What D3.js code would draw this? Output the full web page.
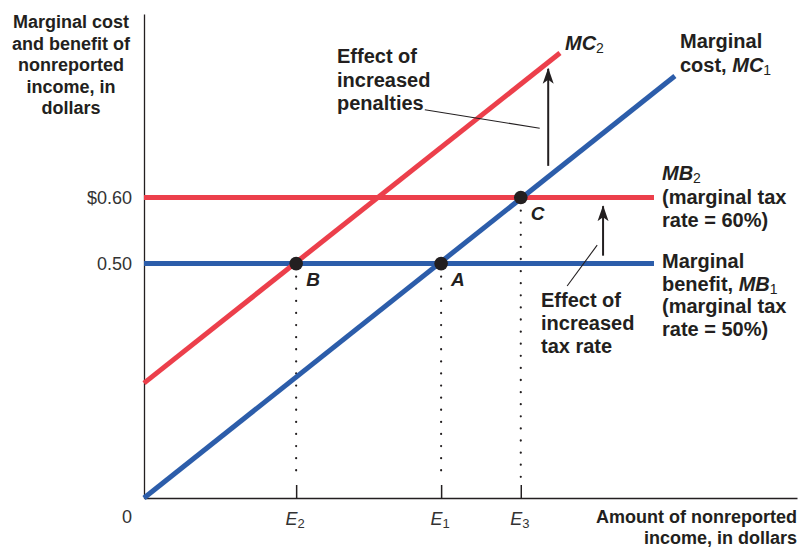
<!DOCTYPE html>
<html>
<head>
<meta charset="utf-8">
<script src="https://cdn.jsdelivr.net/npm/d3@7"></script>
<style>
  body { margin: 0; background: #fff; }
  svg text { font-family: "Liberation Sans Narrow", "Arial Narrow", "Liberation Sans", sans-serif; fill: #231f20; }
</style>
</head>
<body>
<div id="chart"></div>
<script>
// tax evasion: marginal cost vs marginal benefit of nonreported income
// values are in chart units (x: 0-100 abstract income, y: dollars)

const yTickValues = [0.5, 0.6];
const yTickLabels = ["0.50", "$0.60"];

const eNames = ["2", "1", "3"];           // subscripts of E
const eValues = [23.3, 45.5, 57.7];

const mc1X = [0, 81.3], mc1Y = [0.145, 0.784];
const mc2X = [0, 63.7], mc2Y = [0.319, 0.819];
const mb1X = [0, 78.1], mb1Y = [0.5, 0.5];
const mb2X = [0, 78.1], mb2Y = [0.6, 0.6];

const eqNames = ["B", "A", "C"];
const eqX = [23.3, 45.5, 57.7];
const eqY = [0.5, 0.5, 0.6];

const penaltyArrowX = 61.9, penaltyArrowY = [0.648, 0.795];
const taxArrowX = 70.3, taxArrowY = [0.512, 0.587];
const penaltyLeaderX = [43.0, 60.6], penaltyLeaderY = [0.733, 0.705];
const taxLeaderX = [64.8, 69.4], taxLeaderY = [0.466, 0.528];

const width = 799, height = 547;
const red = "#ec3f4b", blue = "#2c5daa";

const svg = d3.select("#chart").append("svg")
    .attr("width", width)
    .attr("height", height);

const x = d3.scaleLinear().domain([0, 100]).range([144, 797]);
const y = d3.scaleLinear().domain([0.145, 0.878]).range([498, 14]);

const line = d3.line().x(d => x(d[0])).y(d => y(d[1]));
const pts = (xs, ys) => xs.map((v, i) => [v, ys[i]]);

// arrow head
svg.append("defs").append("marker")
    .attr("id", "head")
    .attr("viewBox", "0 -6 16 12")
    .attr("refX", 15).attr("refY", 0)
    .attr("markerUnits", "userSpaceOnUse")
    .attr("markerWidth", 16).attr("markerHeight", 12)
    .attr("orient", "auto")
  .append("path")
    .attr("d", "M0,-5.5L16,0L0,5.5L4,0Z")
    .attr("fill", "#231f20");

// axes
svg.append("g")
    .attr("transform", `translate(${x(0)},0)`)
    .call(d3.axisLeft(y).tickValues(yTickValues)
        .tickFormat((d, i) => yTickLabels[i])
        .tickSize(0).tickPadding(12))
    .call(g => g.select(".domain").attr("stroke", "#231f20").attr("stroke-width", 1.3))
    .call(g => g.selectAll("text").style("font-size", "18px").style("fill", "#333").attr("font-family", null));

svg.append("g")
    .attr("transform", `translate(0,${y(0.145)})`)
    .call(d3.axisBottom(x).tickValues(eValues)
        .tickSizeInner(-13).tickSizeOuter(0).tickFormat(""))
    .call(g => g.select(".domain").attr("stroke", "#231f20").attr("stroke-width", 1.3))
    .call(g => g.selectAll(".tick line").attr("stroke", "#231f20").attr("stroke-width", 1.5));

// E labels with subscripts
const eLab = svg.append("g").selectAll("text")
    .data(eValues)
    .join("text")
    .attr("x", d => x(d) - 1)
    .attr("y", 525)
    .attr("text-anchor", "middle")
    .style("font-size", "18px")
    .style("fill", "#333");
eLab.append("tspan").style("font-style", "italic").text("E");
eLab.append("tspan").attr("dy", 3).style("font-size", "13px").text((d, i) => eNames[i]);

svg.append("text")
    .attr("x", x(0) - 17).attr("y", 523)
    .attr("text-anchor", "middle")
    .style("font-size", "18px")
    .style("fill", "#333")
    .text("0");

// dotted drop lines
svg.append("g").selectAll("line")
    .data(eqX)
    .join("line")
    .attr("x1", d => x(d)).attr("x2", d => x(d))
    .attr("y1", (d, i) => y(eqY[i]) + 13)
    .attr("y2", y(0.145) - 18)
    .attr("stroke", "#231f20")
    .attr("stroke-width", 2.2)
    .attr("stroke-linecap", "round")
    .attr("stroke-dasharray", "0.1,12");

// curves
const curves = [
  { p: pts(mb1X, mb1Y), c: blue },
  { p: pts(mb2X, mb2Y), c: red },
  { p: pts(mc2X, mc2Y), c: red },
  { p: pts(mc1X, mc1Y), c: blue }
];
svg.append("g").selectAll("path")
    .data(curves)
    .join("path")
    .attr("d", d => line(d.p))
    .attr("fill", "none")
    .attr("stroke", d => d.c)
    .attr("stroke-width", 5);

// leader lines and arrows
svg.append("path")
    .attr("d", line(pts(penaltyLeaderX, penaltyLeaderY)))
    .attr("stroke", "#231f20").attr("stroke-width", 1.1);
svg.append("path")
    .attr("d", line(pts(taxLeaderX, taxLeaderY)))
    .attr("stroke", "#231f20").attr("stroke-width", 1.1);

svg.append("path")
    .attr("d", line([[penaltyArrowX, penaltyArrowY[0]], [penaltyArrowX, penaltyArrowY[1]]]))
    .attr("stroke", "#231f20").attr("stroke-width", 2)
    .attr("marker-end", "url(#head)");
svg.append("path")
    .attr("d", line([[taxArrowX, taxArrowY[0]], [taxArrowX, taxArrowY[1]]]))
    .attr("stroke", "#231f20").attr("stroke-width", 2)
    .attr("marker-end", "url(#head)");

// equilibrium points
svg.append("g").selectAll("circle")
    .data(eqX)
    .join("circle")
    .attr("cx", d => x(d))
    .attr("cy", (d, i) => y(eqY[i]))
    .attr("r", 6.8)
    .attr("fill", "#231f20");

svg.append("g").selectAll("text")
    .data(eqNames)
    .join("text")
    .attr("x", (d, i) => x(eqX[i]) + 10)
    .attr("y", (d, i) => y(eqY[i]) + 22)
    .style("font-size", "19px")
    .style("font-weight", "bold")
    .style("font-style", "italic")
    .text(d => d);

// multi-line labels; each line is a list of [text, kind]
function label(x0, y0, lh, lines, anchor, size) {
  const t = svg.append("text")
      .attr("text-anchor", anchor || "start")
      .style("font-size", (size || 20) + "px")
      .style("font-weight", "bold");
  lines.forEach((ln, li) => {
    ln.forEach((seg, si) => {
      const s = t.append("tspan").text(seg[0]);
      if (si === 0) s.attr("x", x0).attr("y", y0 + li * lh);
      if (seg[1] === "i") s.style("font-style", "italic");
      if (seg[1] === "sub") s.attr("dy", 3).style("font-size", "14px").style("font-weight", "normal");
    });
  });
  return t;
}

label(71, 28, 21.5, [
  [["Marginal cost"]], [["and benefit of"]], [["nonreported"]], [["income, in"]], [["dollars"]]
], "middle", 18);

label(797, 523, 20.5, [[["Amount of nonreported"]], [["income, in dollars"]]], "end", 18);

label(337, 63, 23.5, [[["Effect of"]], [["increased"]], [["penalties"]]]);

label(565, 50, 23, [[["MC", "i"], ["2", "sub"]]]);

label(680, 48, 23.5, [[["Marginal"]], [["cost, "], ["MC", "i"], ["1", "sub"]]]);

label(662, 180, 23.5, [[["MB", "i"], ["2", "sub"]], [["(marginal tax"]], [["rate = 60%)"]]]);

label(662, 268, 22.5, [
  [["Marginal"]], [["benefit, "], ["MB", "i"], ["1", "sub"]], [["(marginal tax"]], [["rate = 50%)"]]
]);

label(541, 307, 23, [[["Effect of"]], [["increased"]], [["tax rate"]]]);
</script>
</body>
</html>
